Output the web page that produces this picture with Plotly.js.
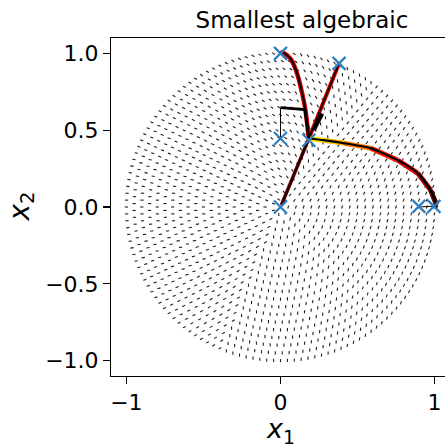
<!DOCTYPE html>
<html>
<head>
<meta charset="utf-8">
<script src="https://cdn.plot.ly/plotly-3.0.1.min.js"></script>
<style>html,body{margin:0;padding:0;overflow:hidden;background:#fff;}#plot{width:455px;height:445px;}</style>
</head>
<body>
<div id="plot"></div>
<script>
// ---- background quiver field ----
const ringRadii = [0.05,0.10,0.15,0.20,0.25,0.30,0.35,0.40,0.45,0.50,0.55,0.60,0.65,0.70,0.75,0.80,0.85,0.90,0.95,1.00];
const arcStep = 0.045;      // spacing of arrows along each ring
const arrowLen = 0.021;
// arrow direction (deg) by polar sector of position (deg)
const fieldThetaDeg = [0,15,30,45,60,75,90,105,120,135,150,165,180,195,210,225,240,255,270,285,300,315,330,345];
const fieldAngleDeg = [70,65,55,50,95,125,145,148,150,153,160,170,180,8,15,25,32,90,90,85,80,75,70,70];

// ---- trajectories ----
const path1X = [0.0, 0.011, 0.065, 0.108, 0.141, 0.162, 0.184];
const path1Y = [1.0, 1.008, 0.965, 0.868, 0.738, 0.630, 0.446];
const path2X = [0.379, 0.184];
const path2Y = [0.933, 0.446];
const path2BoldX = [0.271, 0.216];
const path2BoldY = [0.608, 0.500];
const path3ThinX = [0.0, 0.0];
const path3ThinY = [0.446, 0.647];
const path3BoldX = [0.0, 0.158, 0.184];
const path3BoldY = [0.647, 0.634, 0.446];
const path4X = [0.006, 0.184];
const path4Y = [0.013, 0.446];
const path5X = [0.184, 0.279, 0.409, 0.584, 0.760, 0.890, 0.974, 1.013, 1.0];
const path5Y = [0.446, 0.435, 0.416, 0.383, 0.305, 0.221, 0.110, 0.013, 0.0];
const path5Colors = ['#ffe000', '#ffc000', '#ff7a00', '#ff2000', '#e00000', '#a00000', '#600000', '#400000'];
const path6X = [0.898, 1.006];
const path6Y = [0.0, 0.006];

// ---- start / end markers ----
const markX = [0.0, 0.38, 0.0, 0.184, 0.0, 0.898, 0.996];
const markY = [1.0, 0.935, 0.446, 0.435, 0.0, 0.004, 0.004];

const titleText = 'Smallest algebraic';
const xLabel = '<i>x</i><sub>1</sub>';
const yLabel = '<i>x</i><sub>2</sub>';

function fieldAngle(thDeg) {
  let best = 0, bd = 1e9;
  for (let i = 0; i < fieldThetaDeg.length; i++) {
    let d = Math.abs(thDeg - fieldThetaDeg[i]);
    d = Math.min(d, 360 - d);
    if (d < bd) { bd = d; best = i; }
  }
  return fieldAngleDeg[best] * Math.PI / 180;
}

const qx = [], qy = [];
ringRadii.forEach(r => {
  const n = Math.max(6, Math.round(2 * Math.PI * r / arcStep));
  for (let k = 0; k < n; k++) {
    const th = 2 * Math.PI * k / n;
    const x = r * Math.cos(th), y = r * Math.sin(th);
    const a = fieldAngle(th * 180 / Math.PI);
    qx.push(x - 0.5 * arrowLen * Math.cos(a), x + 0.5 * arrowLen * Math.cos(a), null);
    qy.push(y - 0.5 * arrowLen * Math.sin(a), y + 0.5 * arrowLen * Math.sin(a), null);
  }
});

const traces = [];
traces.push({x: qx, y: qy, mode: 'lines', line: {color: '#222', width: 1.1}, hoverinfo: 'skip', showlegend: false});

function line(x, y, color, width) {
  traces.push({x: x, y: y, mode: 'lines', line: {color: color, width: width, shape: 'spline', smoothing: 0.6}, hoverinfo: 'skip', showlegend: false});
}
// colored underlays
line(path1X, path1Y, '#e00000', 4.5);
line(path2X, path2Y, '#e00000', 4);
line(path4X, path4Y, '#8a0000', 3.5);
for (let i = 0; i < path5X.length - 1; i++) {
  traces.push({x: [path5X[i], path5X[i+1]], y: [path5Y[i], path5Y[i+1]], mode: 'lines',
    line: {color: path5Colors[i], width: 5}, hoverinfo: 'skip', showlegend: false});
}
// black overlays
line(path1X, path1Y, '#1a0000', 2.2);
line(path2X, path2Y, '#1a0000', 1.8);
line(path2BoldX, path2BoldY, '#000', 4);
line(path3ThinX, path3ThinY, '#000', 1);
traces.push({x: path3BoldX, y: path3BoldY, mode: 'lines', line: {color: '#000', width: 2.8}, hoverinfo: 'skip', showlegend: false});
line(path4X, path4Y, '#200000', 2.2);
line(path5X, path5Y, '#000', 2.2);
line(path6X, path6Y, '#000', 1);

traces.push({x: markX, y: markY, mode: 'markers', marker: {symbol: 'x-thin', size: 13, line: {width: 2.2, color: '#2f7fc0'}}, hoverinfo: 'skip', showlegend: false});

const fontFam = 'DejaVu Sans, sans-serif';
const layout = {
  width: 455, height: 445,
  margin: {l: 111, r: 5, t: 38, b: 69},
  paper_bgcolor: '#fff', plot_bgcolor: '#fff',
  showlegend: false,
  title: {text: titleText, font: {family: fontFam, size: 23, color: '#000'}, x: 302/455, xanchor: 'center', xref: 'container', y: 1 - 20/445, yanchor: 'middle', yref: 'container'},
  xaxis: {range: [-1.1, 1.1], tickvals: [-1, 0, 1], ticktext: ['\u22121', '0', '1'],
    showgrid: false, zeroline: false, showline: true, linecolor: '#000', linewidth: 1, mirror: true,
    ticks: 'outside', ticklen: 7, tickwidth: 1.3, tickcolor: '#000',
    tickfont: {family: fontFam, size: 22, color: '#000'}},
  yaxis: {range: [-1.1, 1.1], tickvals: [-1, -0.5, 0, 0.5, 1], ticktext: ['\u22121.0', '\u22120.5', '0.0', '0.5', '1.0'],
    showgrid: false, zeroline: false, showline: true, linecolor: '#000', linewidth: 1, mirror: true,
    ticks: 'outside', ticklen: 7, tickwidth: 1.3, tickcolor: '#000',
    tickfont: {family: fontFam, size: 22, color: '#000'}},
  annotations: [
    {text: xLabel, xref: 'paper', yref: 'paper', x: (280 - 111) / 339, y: -(412 - 376) / 338, xanchor: 'center', yanchor: 'top',
     borderpad: 0, showarrow: false, font: {family: fontFam, size: 27, color: '#000'}},
    {text: yLabel, xref: 'paper', yref: 'paper', x: (0 - 111) / 339, y: 0.5, xanchor: 'left', yanchor: 'middle', textangle: -90,
     showarrow: false, font: {family: fontFam, size: 28, color: '#000'}}
  ]
};
Plotly.newPlot('plot', traces, layout, {staticPlot: true, displayModeBar: false});
</script>
</body>
</html>
